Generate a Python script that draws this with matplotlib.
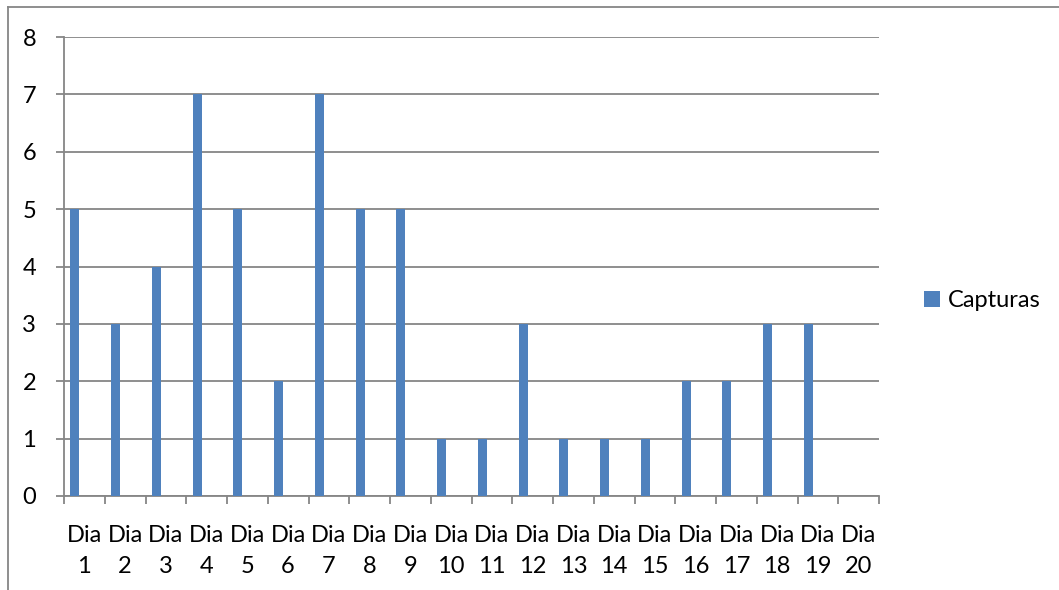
import numpy as np
import matplotlib.pyplot as plt
from matplotlib.lines import Line2D

plt.rcParams['font.family'] = ['Lato', 'DejaVu Sans']

# data
dias = ['Dia\n%d' % i for i in range(1, 21)]
capturas = [5, 3, 4, 7, 5, 2, 7, 5, 5, 1, 1, 3, 1, 1, 1, 2, 2, 3, 3, 0]
serie = 'Capturas'

W, H = 1059, 590
fig = plt.figure(figsize=(W / 100, H / 100), dpi=100)
ax = fig.add_axes([64 / W, (H - 496) / H, (879 - 64) / W, (496 - 37) / H])

grey = '#868686'
fs = 17
x = np.arange(len(dias))
ax.bar(x - 0.235, capturas, width=0.22, color='#4F81BD', label=serie, zorder=3)

ax.set_xlim(-0.5, len(dias) - 0.5)
ax.set_ylim(0, 8)
ax.set_yticks(range(0, 9))
ax.grid(axis='y', color=grey, linewidth=1.3, zorder=0)

ax.set_xticks(x)
ax.set_xticklabels(dias, linespacing=1.6)
ax.set_xticks(np.arange(-0.5, len(dias)), minor=True)
ax.tick_params(axis='x', which='major', length=0, pad=21, labelsize=fs)
ax.tick_params(axis='x', which='minor', length=6, width=1.3, color=grey, direction='out')
ax.tick_params(axis='y', length=6, width=1.3, color=grey, pad=14, labelsize=fs)

for s in ['top', 'right']:
    ax.spines[s].set_visible(False)
for s in ['left', 'bottom']:
    ax.spines[s].set_color(grey)
    ax.spines[s].set_linewidth(1.3)

ax.legend(loc='center left', bbox_to_anchor=(903 / W, 1 - 301 / H),
          bbox_transform=fig.transFigure, frameon=False, fontsize=fs,
          handlelength=0.65, handleheight=0.65, handletextpad=0.35)

# outer chart border (only top and left visible)
fig.add_artist(Line2D([8 / W, 8 / W], [0, 1 - 7 / H], color=grey, linewidth=1.3))
fig.add_artist(Line2D([8 / W, 1], [1 - 7 / H, 1 - 7 / H], color=grey, linewidth=1.3))

fig.savefig('out.png', dpi=100)
